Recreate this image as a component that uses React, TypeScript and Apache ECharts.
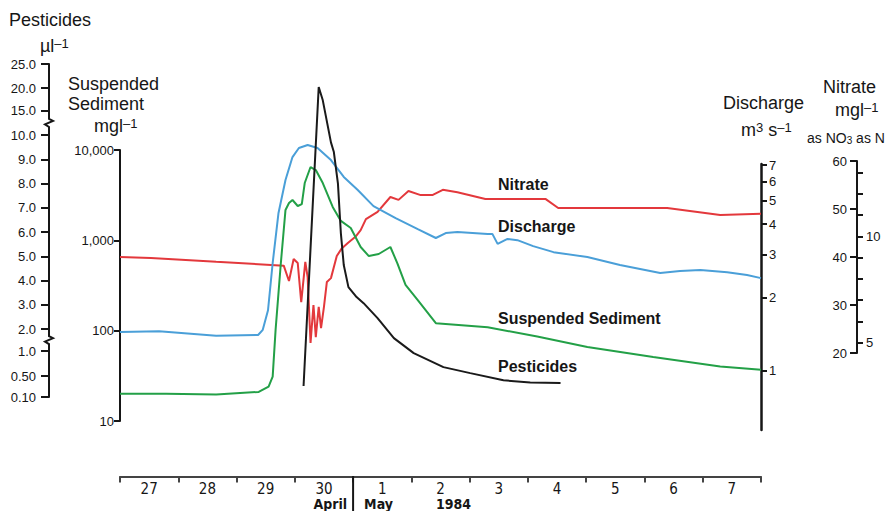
import React, { useEffect, useRef } from 'react';
import * as echarts from 'echarts';

// ---------------- data ----------------
// x values are days elapsed since 00:00 on 27 April 1984
const DATE_LABELS = ['27', '28', '29', '30', '1', '2', '3', '4', '5', '6', '7'];

const SEDIMENT_DAYS = [0, 0.79, 1.65, 2.38, 2.55, 2.62, 2.67, 2.76, 2.84, 2.9, 2.96, 3.05, 3.12, 3.17, 3.27, 3.36, 3.48, 3.65, 3.79, 3.96, 4.13, 4.27, 4.44, 4.64, 4.76, 4.9, 5.11, 5.42, 6.31, 7.16, 8.02, 9.15, 10.3, 11.0];
const SEDIMENT_MGL = [20, 20, 19.7, 21, 24, 31, 102, 557, 2170, 2590, 2795, 2400, 2520, 4310, 6480, 6000, 4310, 2340, 1640, 1370, 844, 670, 706, 844, 557, 321, 218, 121, 109, 86, 66, 51, 40, 37];

const DISCHARGE_DAYS = [0, 0.67, 1.65, 2.37, 2.45, 2.54, 2.62, 2.72, 2.84, 2.96, 3.07, 3.22, 3.39, 3.62, 3.84, 4.08, 4.35, 4.73, 5.11, 5.42, 5.59, 5.79, 6.31, 6.39, 6.48, 6.65, 6.82, 7.09, 7.44, 8.02, 8.58, 9.27, 9.61, 9.96, 10.42, 10.76, 11.0];
const DISCHARGE_M3S = [1.44, 1.45, 1.39, 1.4, 1.47, 1.77, 2.77, 4.45, 6.08, 7.56, 8.24, 8.48, 8.24, 7.35, 6.26, 5.53, 4.75, 4.24, 3.82, 3.51, 3.68, 3.72, 3.65, 3.65, 3.32, 3.48, 3.44, 3.25, 3.07, 2.93, 2.72, 2.52, 2.57, 2.59, 2.54, 2.47, 2.4];

const NITRATE_DAYS = [0, 0.53, 1.65, 2.81, 2.9, 2.98, 3.05, 3.11, 3.18, 3.22, 3.27, 3.32, 3.36, 3.41, 3.45, 3.5, 3.55, 3.62, 3.72, 3.8, 3.91, 4.04, 4.13, 4.22, 4.42, 4.64, 4.78, 4.95, 5.16, 5.36, 5.54, 5.79, 6.27, 7.3, 7.52, 8.58, 9.39, 9.78, 10.3, 11.0];
const NITRATE_NO3 = [40.0, 39.8, 39.0, 38.2, 35.0, 39.6, 38.75, 30.6, 39.0, 35.8, 22.1, 30.0, 23.3, 29.6, 25.2, 29.6, 34.8, 35.6, 40.2, 41.7, 42.9, 44.2, 45.6, 47.9, 49.4, 52.5, 51.9, 53.75, 52.9, 52.9, 54.0, 53.5, 52.1, 52.1, 50.2, 50.2, 50.2, 49.6, 48.75, 49.0];

const PEST_DAYS = [3.15, 3.41, 3.48, 3.62, 3.67, 3.74, 3.79, 3.84, 3.92, 4.06, 4.18, 4.42, 4.7, 5.04, 5.55, 6.01, 6.58, 7.04, 7.56];
const PEST_UL = [0.31, 20.2, 17.3, 9.7, 9.3, 8.0, 5.96, 4.64, 3.73, 3.32, 3.07, 2.45, 1.59, 0.96, 0.68, 0.56, 0.42, 0.38, 0.37];

// axis ticks
const DISCHARGE_TICKS = [1, 2, 3, 4, 5, 6, 7];
const NITRATE_N_TICKS = [5, 6, 7, 8, 9, 10, 11, 12, 13];
const NITRATE_N_LABELS = [5, 10];
const NO3_TO_N = 14 / 62;
// pesticide axis is a broken, piece-wise scale: tick value -> position on the axis
const PEST_TICK_VALUES = [0.1, 0.5, 1, 2, 3, 4, 5, 6, 7, 8, 9, 10, 15, 20, 25];
const PEST_TICK_LABELS = ['0.10', '0.50', '1.0', '2.0', '3.0', '4.0', '5.0', '6.0', '7.0', '8.0', '9.0', '10.0', '15.0', '20.0', '25.0'];
const PEST_TICK_POS = [-0.8, 0.06, 1.09, 2, 3, 4, 5, 6, 7, 8, 9, 10, 11, 11.94, 12.93];

// ---------------- helpers ----------------
function pestPos(v: number): number {
  const t = PEST_TICK_VALUES;
  const p = PEST_TICK_POS;
  if (v <= t[0]) return p[0];
  for (let i = 0; i < t.length - 1; i++) {
    if (v <= t[i + 1]) return p[i] + ((v - t[i]) / (t[i + 1] - t[i])) * (p[i + 1] - p[i]);
  }
  return p[p.length - 1];
}

const FONT = "'Liberation Sans', Arial, Helvetica, sans-serif";
const NARROW = "'Liberation Sans Narrow', 'Arial Narrow', 'DejaVu Sans Condensed', 'Liberation Sans', sans-serif";
const INK = '#161616';
const RED = '#e3383c';
const BLUE = '#4a9fd8';
const GREEN = '#23a047';
const BLACK = '#1a1a1a';

// layout
const G_LEFT = 120;
const G_RIGHT = 129;
const PLOT_W = 890 - G_LEFT - G_RIGHT;
const PEST_TOP = 64;
const PEST_H = 333;
const pestY = (pos: number) =>
  PEST_TOP + ((PEST_TICK_POS[PEST_TICK_POS.length - 1] - pos) / (PEST_TICK_POS[PEST_TICK_POS.length - 1] - PEST_TICK_POS[0])) * PEST_H;
const PEST_AXIS_X = 49;

function zigzag(y: number) {
  const x = PEST_AXIS_X;
  return [
    { type: 'rect', z: 100, shape: { x: x - 3, y: y - 5, width: 6, height: 10 }, style: { fill: '#fff' } },
    {
      type: 'polyline', z: 101,
      shape: { points: [[x, y - 6], [x, y - 4], [x + 4, y - 2], [x - 4, y + 1.5], [x, y + 4], [x, y + 6]] },
      style: { stroke: INK, lineWidth: 2, fill: 'none' },
    },
  ];
}

function txt(x: number, y: number, text: string, extra: any = {}) {
  return {
    type: 'text', z: 100, x, y,
    style: {
      text, fill: INK, fontSize: 18, lineHeight: 17, fontFamily: FONT,
      align: 'left', verticalAlign: 'middle', ...extra,
    },
  };
}

function unit(x: number, y: number, text: string, size = 18, supSize = 13) {
  return txt(x, y, text, {
    fontSize: size,
    rich: {
      m: { fontSize: size, lineHeight: size, fontFamily: FONT, fill: INK },
      s: { fontSize: supSize, lineHeight: supSize, fontFamily: FONT, fill: INK, verticalAlign: 'top' },
      b: { fontSize: supSize, lineHeight: supSize, fontFamily: FONT, fill: INK, verticalAlign: 'bottom' },
    },
  });
}

function buildOption() {
  const valueX = (i: number) => ({ gridIndex: i, type: 'value', min: 0, max: 11, show: false, axisLine: { onZero: false } });
  const axisLineStyle = { color: INK, width: 2 };
  const tickLabel = { color: INK, fontSize: 13, fontFamily: FONT };
  const dividerX = G_LEFT + (4 * PLOT_W) / DATE_LABELS.length;
  const seriesBase = { type: 'line', symbol: 'none', silent: true, clip: false };

  return {
    animation: false,
    backgroundColor: '#fff',
    grid: [
      { left: G_LEFT, right: G_RIGHT, top: 150, height: 271 }, // suspended sediment
      { left: G_LEFT, right: G_RIGHT, top: 164, height: 266 }, // discharge
      { left: G_LEFT, right: G_RIGHT, top: 161, height: 192 }, // nitrate
      { left: G_LEFT, right: G_RIGHT, top: PEST_TOP, height: PEST_H }, // pesticides
      { left: G_LEFT, right: G_RIGHT, top: 475, height: 1.5 }, // date axis
    ],
    xAxis: [
      valueX(0), valueX(1), valueX(2), valueX(3),
      {
        gridIndex: 4, type: 'category', data: DATE_LABELS, boundaryGap: true, position: 'bottom',
        axisLine: { show: true, onZero: false, lineStyle: { color: '#444', width: 2 } },
        axisTick: { show: true, interval: 0, length: 6, lineStyle: { color: '#444', width: 2 } },
        axisLabel: { interval: 0, margin: 4, lineHeight: 16, color: INK, fontSize: 15, fontFamily: NARROW },
        splitLine: { show: false },
      },
    ],
    yAxis: [
      {
        gridIndex: 0, type: 'log', logBase: 10, min: 10, max: 10000, position: 'left',
        axisLine: { show: true, onZero: false, lineStyle: axisLineStyle },
        axisTick: { show: true, length: 6, lineStyle: axisLineStyle },
        axisLabel: { ...tickLabel, margin: 6, formatter: (v: number) => Math.round(v).toLocaleString('en-US') },
        splitLine: { show: false },
      },
      {
        gridIndex: 1, type: 'value', min: -0.245, max: 0.85, position: 'right',
        axisLine: { show: true, onZero: false, lineStyle: { color: INK, width: 2.5 } },
        axisTick: { show: true, length: 6, customValues: DISCHARGE_TICKS.map(Math.log10), lineStyle: axisLineStyle },
        axisLabel: { ...tickLabel, margin: 8, customValues: DISCHARGE_TICKS.map(Math.log10), formatter: (v: number) => String(Math.round(Math.pow(10, v))) },
        splitLine: { show: false },
      },
      {
        gridIndex: 2, type: 'value', min: 20, max: 60, interval: 10, position: 'right', offset: 96,
        axisLine: { show: true, onZero: false, lineStyle: axisLineStyle },
        axisTick: { show: true, inside: true, length: 7, lineStyle: axisLineStyle },
        axisLabel: { ...tickLabel, inside: true, margin: 10 },
        splitLine: { show: false },
      },
      {
        gridIndex: 2, type: 'value', min: 20 * NO3_TO_N, max: 60 * NO3_TO_N, position: 'right', offset: 96,
        axisLine: { show: false, onZero: false },
        axisTick: { show: true, length: 6, customValues: NITRATE_N_TICKS, lineStyle: axisLineStyle },
        axisLabel: { ...tickLabel, margin: 9, customValues: NITRATE_N_LABELS },
        splitLine: { show: false },
      },
      {
        gridIndex: 3, type: 'value', min: PEST_TICK_POS[0], max: PEST_TICK_POS[PEST_TICK_POS.length - 1],
        position: 'left', offset: G_LEFT - PEST_AXIS_X,
        axisLine: { show: true, onZero: false, lineStyle: axisLineStyle },
        axisTick: { show: true, length: 8, customValues: PEST_TICK_POS, lineStyle: axisLineStyle },
        axisLabel: {
          ...tickLabel, margin: 13, customValues: PEST_TICK_POS,
          formatter: (v: number) => {
            const i = PEST_TICK_POS.findIndex((p) => Math.abs(p - v) < 1e-6);
            return i >= 0 ? PEST_TICK_LABELS[i] : '';
          },
        },
        splitLine: { show: false },
      },
      { gridIndex: 4, type: 'value', show: false, axisLine: { onZero: false } },
    ],
    series: [
      {
        ...seriesBase, name: 'Nitrate', xAxisIndex: 2, yAxisIndex: 2,
        data: NITRATE_DAYS.map((d, i) => [d, NITRATE_NO3[i]]),
        lineStyle: { color: RED, width: 2 }, itemStyle: { color: RED },
      },
      {
        ...seriesBase, name: 'Discharge', xAxisIndex: 1, yAxisIndex: 1,
        data: DISCHARGE_DAYS.map((d, i) => [d, Math.log10(DISCHARGE_M3S[i])]),
        lineStyle: { color: BLUE, width: 2 }, itemStyle: { color: BLUE },
      },
      {
        ...seriesBase, name: 'Suspended Sediment', xAxisIndex: 0, yAxisIndex: 0,
        data: SEDIMENT_DAYS.map((d, i) => [d, SEDIMENT_MGL[i]]),
        lineStyle: { color: GREEN, width: 2 }, itemStyle: { color: GREEN },
      },
      {
        ...seriesBase, name: 'Pesticides', xAxisIndex: 3, yAxisIndex: 4,
        data: PEST_DAYS.map((d, i) => [d, pestPos(PEST_UL[i])]),
        lineStyle: { color: BLACK, width: 2 }, itemStyle: { color: BLACK },
      },
    ],
    graphic: [
      ...zigzag(pestY((PEST_TICK_POS[11] + PEST_TICK_POS[12]) / 2)),
      ...zigzag(pestY((PEST_TICK_POS[2] + PEST_TICK_POS[3]) / 2)),
      // axis titles
      txt(9, 20, 'Pesticides'),
      unit(40, 46, '{m|µl}{s|–1}'),
      txt(68, 84, 'Suspended'),
      txt(68, 104, 'Sediment'),
      unit(94, 126, '{m|mgl}{s|–1}'),
      txt(723, 103, 'Discharge'),
      unit(741, 130, '{m|m}{s|3}{m| s}{s|–1}'),
      txt(823, 87, 'Nitrate'),
      unit(835, 110, '{m|mgl}{s|–1}'),
      unit(807, 138, '{m|as NO}{b|3}{m| as N}', 14, 10),
      // series labels
      txt(498, 184, 'Nitrate', { fontSize: 16, fontWeight: 'bold' }),
      txt(498, 226, 'Discharge', { fontSize: 16, fontWeight: 'bold' }),
      txt(498, 318, 'Suspended Sediment', { fontSize: 16, fontWeight: 'bold' }),
      txt(498, 366, 'Pesticides', { fontSize: 16, fontWeight: 'bold' }),
      // month divider and labels
      {
        type: 'line', z: 100,
        shape: { x1: dividerX, y1: 476, x2: dividerX, y2: 511 },
        style: { stroke: INK, lineWidth: 2 },
      },
      txt(dividerX - 6, 504, 'April', { fontSize: 14, lineHeight: 14, fontWeight: 'bold', fontFamily: NARROW, align: 'right' }),
      txt(dividerX + 11, 504, 'May', { fontSize: 14, lineHeight: 14, fontWeight: 'bold', fontFamily: NARROW }),
      txt(436, 504, '1984', { fontSize: 14, lineHeight: 14, fontWeight: 'bold', fontFamily: NARROW }),
    ],
  };
}

export default function App() {
  const ref = useRef<HTMLDivElement>(null);
  useEffect(() => {
    if (!ref.current) return;
    const chart = echarts.init(ref.current, null, { renderer: 'svg' });
    chart.setOption(buildOption() as any);
    return () => chart.dispose();
  }, []);
  return (
    <div
      ref={ref}
      style={{ position: 'fixed', left: 0, top: 0, width: 890, height: 511, background: '#fff' }}
    />
  );
}
